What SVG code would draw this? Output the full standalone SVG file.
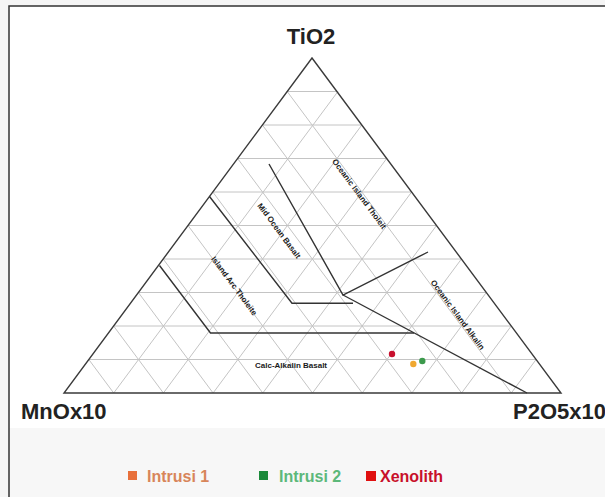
<svg xmlns="http://www.w3.org/2000/svg" width="605" height="497" viewBox="0 0 605 497">
<style>
.grid{stroke:#c4c4c4;stroke-width:1;fill:none}
.edge{stroke:#3a3a3a;stroke-width:1.4;fill:none;stroke-linejoin:miter}
.field{stroke:#333;stroke-width:1.4;fill:none}
.axis{font-family:"Liberation Sans",Arial,sans-serif;font-weight:bold;font-size:22px;fill:#222}
.lbl{font-family:"Liberation Sans",Arial,sans-serif;font-weight:bold;font-size:8px;fill:#1a1a1a;text-anchor:middle;dominant-baseline:central}
.leg{font-family:"Liberation Sans",Arial,sans-serif;font-weight:bold;font-size:16px}
</style>
<rect x="0" y="0" width="605" height="497" fill="#f5f5f5"/>
<rect x="9" y="6" width="596" height="422" fill="#ffffff"/>
<rect x="9" y="428" width="596" height="69" fill="#f7f7f7"/>
<path d="M9 497 V6 H605" stroke="#333" stroke-width="1.5" fill="none"/>
<g id="grid" class="grid">
<path d="M287.2 91.5H336.9M262.4 125H361.8M237.6 158.5H386.7M212.8 192H411.6M188 225.5H436.5M163.2 259H461.4M138.4 292.5H486.3M113.6 326H511.2M88.8 359.5H536.1"/>
<path d="M113.7 393L337.9 91.5M163.4 393L361.8 125M213.1 393L386.7 158.5M262.8 393L411.6 192M312.5 393L436.5 225.5M362.2 393L461.4 259M411.9 393L486.3 292.5M461.6 393L511.2 326M511.3 393L536.1 359.5"/>
<path d="M113.7 393L88.8 359.5M163.4 393L113.6 326M213.1 393L138.4 292.5M262.8 393L163.2 259M312.5 393L188 225.5M362.2 393L212.8 192M411.9 393L237.6 158.5M461.6 393L262.4 125M511.3 393L287.2 91.5"/>
</g>
<g id="triangle">
<path class="edge" d="M312 58 L561 393 L64 393 Z"/>
</g>
<g id="fields" class="field">
<path d="M159.5 265.5 L210.5 333 L414 333"/>
<path d="M209.5 196.5 L292 303.3 L353 303.3"/>
<path d="M269 164 L343 295 L428 252"/>
<path d="M343 295 L527 393"/>
</g>
<g id="field-labels">
<text class="lbl" transform="translate(359 194) rotate(53.4)">Oceanic Island Tholeit</text>
<text class="lbl" transform="translate(279 231) rotate(53.4)">Mid Ocean Basalt</text>
<text class="lbl" transform="translate(234 286) rotate(53.4)">Island Arc Tholeite</text>
<text class="lbl" transform="translate(457.5 315) rotate(53.4)">Oceanic Island Alkalin</text>
<text class="lbl" x="291" y="365.5">Calc-Alkalin Basalt</text>
</g>
<g id="axes">
<text class="axis" x="311" y="44" text-anchor="middle">TiO2</text>
<text class="axis" x="21" y="419">MnOx10</text>
<text class="axis" x="513" y="419">P2O5x10</text>
</g>
<g id="points">
<circle cx="392" cy="354" r="3.2" fill="#c8102e"/>
<circle cx="413.3" cy="364" r="3.2" fill="#f0a830"/>
<circle cx="422.3" cy="361" r="3.2" fill="#3c9a4c"/>
</g>
<g id="legend">
<rect x="128" y="471" width="9" height="9" fill="#e8703a"/>
<text class="leg" x="147" y="482" fill="#d8855a">Intrusi 1</text>
<rect x="259" y="471" width="9" height="9" fill="#1b8a3a"/>
<text class="leg" x="279" y="482" fill="#5cb87a">Intrusi 2</text>
<rect x="366" y="471" width="10" height="10" fill="#e01010"/>
<text class="leg" x="380" y="482" fill="#c8102a">Xenolith</text>
</g>
</svg>
